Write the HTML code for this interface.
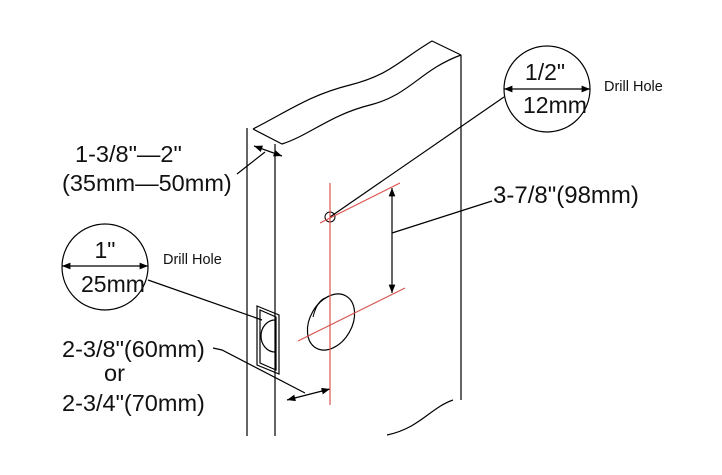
<!DOCTYPE html>
<html><head><style>
body{margin:0;background:#fff;}
svg{display:block;font-family:"Liberation Sans",Arial,sans-serif;}
</style></head><body>
<svg width="722" height="475" viewBox="0 0 722 475" xmlns="http://www.w3.org/2000/svg">
<defs>
<marker id="a" viewBox="0 0 10 10" refX="10" refY="5" markerWidth="7" markerHeight="7" orient="auto-start-reverse"><path d="M0,1 L10,5 L0,9 z" fill="#000"/></marker>
</defs>
<g stroke="#000" stroke-width="1.2" fill="none">
<line x1="247" y1="128" x2="247" y2="436"/>
<line x1="275" y1="144" x2="275" y2="436"/>
<line x1="461" y1="55" x2="461" y2="400"/>
<path d="M253,129 C290,110 310,95 350,85 C390,75 400,60 432,41 L461,55"/>
<path d="M253,129 L282,144 C310,135 330,115 370,105 C410,95 420,70 461,55"/>
<path d="M387,435 C420,428 430,408 453,400"/>
<path d="M257,306 L279,315 L279,374 L257,365 Z"/>
<path d="M260,310 L276,317 L276,370 L260,363 Z"/>
<path d="M275,320 A14,16 0 0 0 275,352"/>
<ellipse cx="331" cy="322" rx="21" ry="30" transform="rotate(30 331 322)"/>
<path d="M313,317 C316,305 320,300 325,298" stroke-width="1"/>
<circle cx="330" cy="217" r="5" stroke-width="1"/>
<line x1="330" y1="217" x2="504" y2="97"/>
<line x1="392" y1="233" x2="492" y2="201"/>
<line x1="148" y1="280" x2="262" y2="320"/>
<polyline points="213,348 222,350 305,393"/>
<line x1="237" y1="174" x2="265" y2="152"/>
<line x1="392" y1="188" x2="392" y2="293" marker-start="url(#a)" marker-end="url(#a)"/>
<line x1="287" y1="400" x2="330" y2="389" marker-start="url(#a)" marker-end="url(#a)"/>
<line x1="254" y1="146" x2="282" y2="156" marker-start="url(#a)" marker-end="url(#a)"/>
<line x1="504" y1="89" x2="590" y2="89" marker-start="url(#a)" marker-end="url(#a)"/>
<line x1="62" y1="266" x2="148" y2="266" marker-start="url(#a)" marker-end="url(#a)"/>
<circle cx="547" cy="89" r="43"/>
<circle cx="105" cy="267" r="43"/>
</g>
<g stroke="#d9534f" stroke-width="1.2">
<line x1="330" y1="183" x2="330" y2="405"/>
<line x1="320" y1="223" x2="400" y2="183"/>
<line x1="298" y1="341" x2="405" y2="288"/>
</g>
<g fill="#111">
<text x="545" y="80" font-size="23" text-anchor="middle">1/2"</text>
<text x="523" y="113" font-size="23">12mm</text>
<text x="604" y="91" font-size="14.5">Drill Hole</text>
<text x="105" y="258" font-size="23" text-anchor="middle">1"</text>
<text x="81" y="292" font-size="23">25mm</text>
<text x="163" y="264" font-size="14.5">Drill Hole</text>
<text x="75" y="162" font-size="23.5">1-3/8"—2"</text>
<text x="62" y="191" font-size="23.5">(35mm—50mm)</text>
<text x="62" y="357" font-size="23.5">2-3/8"(60mm)</text>
<text x="104" y="381" font-size="23.5">or</text>
<text x="62" y="411" font-size="23.5">2-3/4"(70mm)</text>
<text x="493" y="203" font-size="24">3-7/8"(98mm)</text>
</g>
</svg>
</body></html>
